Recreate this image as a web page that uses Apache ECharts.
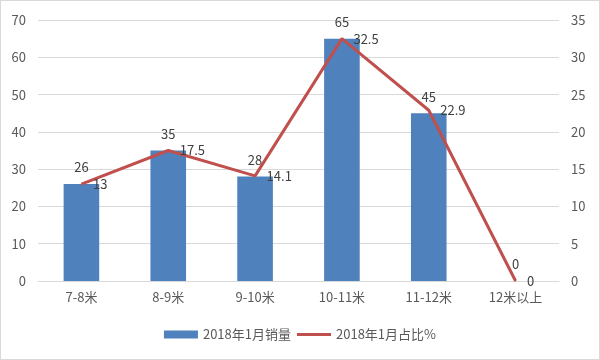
<!DOCTYPE html>
<html><head><meta charset="utf-8">
<script src="https://cdn.jsdelivr.net/npm/echarts@6/dist/echarts.min.js"></script>
<style>html,body{margin:0;padding:0;background:#fff}#c{width:598px;height:358px;border:1px solid #d9d9d9}</style>
</head><body><div id="c"></div>
<script>
const categories = ['7-8米','8-9米','9-10米','10-11米','11-12米','12米以上'];
const sales = [26,35,28,65,45,0];
const share = [13,17.5,14.1,32.5,22.9,0];
const font = '"Noto Sans CJK SC", "Noto Sans", sans-serif';
const chart = echarts.init(document.getElementById('c'));
chart.setOption({
  animation:false,
  textStyle:{fontFamily:font},
  grid:{left:37,right:40,top:19,bottom:78},
  legend:{bottom:13,itemGap:6,itemWidth:34,itemHeight:8,textStyle:{color:'#595959',fontSize:13,fontFamily:font},
    data:[{name:'2018年1月销量',icon:'rect'},{name:'2018年1月占比%',icon:'path://M0,0L34,0L34,3L0,3Z'}]},
  xAxis:{type:'category',data:categories,axisTick:{show:false},
    axisLine:{lineStyle:{color:'#d9d9d9'}},
    axisLabel:{color:'#595959',fontSize:13,margin:10}},
  yAxis:[
    {type:'value',min:0,max:70,interval:10,axisLine:{show:false},axisTick:{show:false},
     splitLine:{lineStyle:{color:'#d9d9d9'}},axisLabel:{color:'#595959',fontSize:13,margin:12}},
    {type:'value',min:0,max:35,interval:5,axisLine:{show:false},axisTick:{show:false},
     splitLine:{show:false},axisLabel:{color:'#595959',fontSize:13,margin:12}}
  ],
  series:[
    {name:'2018年1月销量',type:'bar',data:sales,barWidth:'41%',
     itemStyle:{color:'#4f81bd'},
     label:{show:true,position:'top',color:'#404040',fontSize:13,distance:10}},
    {name:'2018年1月占比%',type:'line',yAxisIndex:1,data:share,symbol:'circle',symbolSize:1,
     lineStyle:{color:'#c0504d',width:3},itemStyle:{color:'#c0504d'},
     label:{show:true,position:'right',color:'#404040',fontSize:13,distance:11}}
  ]
});
</script></body></html>
